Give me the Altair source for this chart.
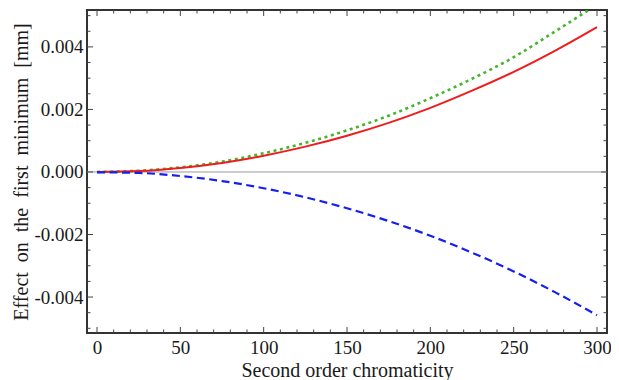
import altair as alt
import pandas as pd

# ---- data ----
x_vals = [0, 25, 50, 75, 100, 125, 150, 175, 200, 225, 250, 275, 300]
red_vals = [0.0, 0.00003, 0.00013, 0.00029, 0.00052, 0.00081, 0.00116, 0.00157, 0.00205, 0.00260, 0.00320, 0.00388, 0.00463]
green_vals = [0.0, 0.00004, 0.00015, 0.00033, 0.00060, 0.00093, 0.00133, 0.00180, 0.00236, 0.00298, 0.00367, 0.00450, 0.00535]
blue_vals = [-0.00001, -0.00003, -0.00013, -0.00029, -0.00052, -0.00081, -0.00116, -0.00157, -0.00204, -0.00258, -0.00318, -0.00385, -0.00458]

x_major = [0, 50, 100, 150, 200, 250, 300]
x_minor = [v for v in range(10, 300, 10) if v % 50 != 0]
y_major = [-0.004, -0.002, 0.0, 0.002, 0.004]
y_minor = [-0.005, -0.0045, -0.0035, -0.003, -0.0025, -0.0015, -0.001, -0.0005,
           0.0005, 0.001, 0.0015, 0.0025, 0.003, 0.0035, 0.0045, 0.005]

W, H = 520, 323
XDOM = [-6, 306]
YDOM = [-0.00515, 0.00518]
FONT = "Liberation Serif"

df = pd.DataFrame({"x": x_vals, "red": red_vals, "green": green_vals, "blue": blue_vals})
xs = alt.Scale(domain=XDOM, nice=False, zero=False)
ys = alt.Scale(domain=YDOM, nice=False, zero=False)

x_axis = alt.Axis(values=x_major, title="Second order chromaticity", format="d",
                  ticks=False, domain=False, grid=False, labelPadding=5, titlePadding=3)
y_axis = alt.Axis(values=y_major, title="Effect\u00a0 on\u00a0 the\u00a0 first\u00a0 minimum\u00a0 [mm]",
                  labelExpr="datum.value < 0 ? '-' + format(-datum.value, '.3f') : format(datum.value, '.3f')",
                  ticks=False, domain=False, grid=False, labelPadding=4, titlePadding=2)

base = alt.Chart(df)

zero = alt.Chart(pd.DataFrame({"z": [0.0]})).mark_rule(color="#9a9a9a", strokeWidth=1).encode(
    y=alt.Y("z:Q", scale=ys, axis=y_axis), x=alt.value(0), x2=alt.value(W))

red = base.mark_line(color="#ee1c1c", strokeWidth=2, clip=True, interpolate="monotone").encode(
    x=alt.X("x:Q", scale=xs, axis=x_axis), y=alt.Y("red:Q", scale=ys))
green = base.mark_line(color="#45b52e", strokeWidth=2.6, strokeDash=[3, 3.6], clip=True, interpolate="monotone").encode(
    x=alt.X("x:Q", scale=xs), y=alt.Y("green:Q", scale=ys))
blue = base.mark_line(color="#1620ee", strokeWidth=2.2, strokeDash=[8, 4.5], clip=True, interpolate="monotone").encode(
    x=alt.X("x:Q", scale=xs), y=alt.Y("blue:Q", scale=ys))

def xticks(vals, length):
    d = pd.DataFrame({"v": vals})
    bot = alt.Chart(d).mark_rule(color="#444", strokeWidth=1).encode(
        x=alt.X("v:Q", scale=xs), y=alt.value(H), y2=alt.value(H - length))
    top = alt.Chart(d).mark_rule(color="#444", strokeWidth=1).encode(
        x=alt.X("v:Q", scale=xs), y=alt.value(0), y2=alt.value(length))
    return [bot, top]

def yticks(vals, length):
    d = pd.DataFrame({"v": vals})
    left = alt.Chart(d).mark_rule(color="#444", strokeWidth=1).encode(
        y=alt.Y("v:Q", scale=ys), x=alt.value(0), x2=alt.value(length))
    right = alt.Chart(d).mark_rule(color="#444", strokeWidth=1).encode(
        y=alt.Y("v:Q", scale=ys), x=alt.value(W), x2=alt.value(W - length))
    return [left, right]

layers = [zero] + xticks(x_major, 6) + xticks(x_minor, 3.5) + yticks(y_major, 6) + yticks(y_minor, 3.5) + [green, red, blue]

chart = alt.layer(*layers).properties(
    width=W, height=H,
    autosize=alt.AutoSizeParams(type="none"),
    padding={"left": 79, "top": 2, "right": 4, "bottom": 48},
).configure(background="white").configure_view(stroke="#333", strokeWidth=2).configure_axis(
    labelFont=FONT, labelFontSize=19, labelColor="#1a1a1a",
    titleFont=FONT, titleFontSize=20, titleFontWeight="normal", titleColor="#1a1a1a",
)

chart.save("out.html", embed_options={"renderer": "svg", "actions": False})
